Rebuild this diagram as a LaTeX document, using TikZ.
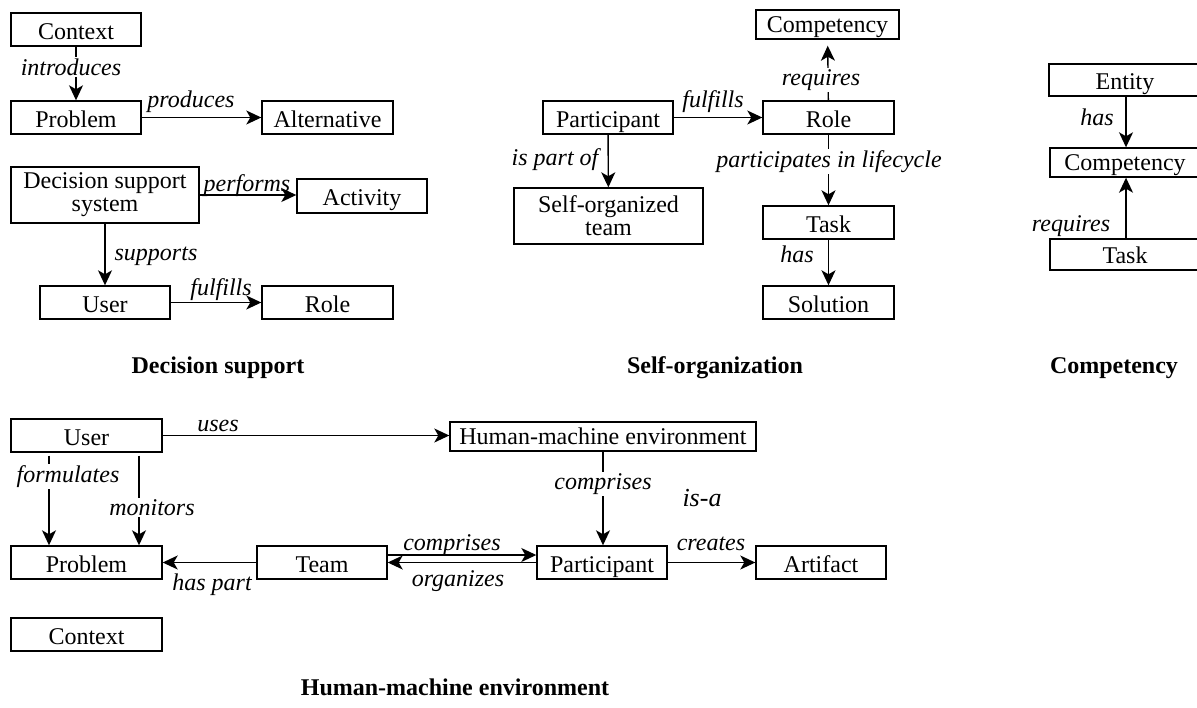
\documentclass[tikz,border=0pt]{standalone}
\usepackage{fontspec}
\setmainfont{Liberation Serif}
\usetikzlibrary{arrows.meta}

\begin{document}
\begin{tikzpicture}[x=1pt,y=-1pt,
  box/.style={draw, line width=1.4pt, inner sep=0pt, minimum width=130pt,
    text height=26pt, text depth=7pt, font=\fontsize{24}{23}\selectfont},
  thinbox/.style={box, text height=22pt, text depth=7pt},
  tallbox/.style={draw, line width=1.4pt, inner sep=0pt, minimum height=56pt,
    align=center, font=\fontsize{24}{23}\selectfont},
  conn/.style={line width=1.4pt, -{Stealth[length=15pt,width=14pt,inset=4pt]}},
  lbl/.style={font=\fontsize{24}{28}\selectfont\itshape, inner sep=1.5pt, anchor=base},
  lblw/.style={lbl, fill=white},
  heading/.style={font=\fontsize{24}{28}\selectfont\bfseries, inner sep=0pt, anchor=base}]

\useasboundingbox (0,0) rectangle (1197,707);
\clip (0,0) rectangle (1197,707);

% ---------------- Decision support ----------------
\node[box] (ctxA) at (76,29.5) {Context};
\node[box] (probA) at (76,117.5) {Problem};
\node[box, minimum width=131pt] (alt) at (327.5,117.5) {Alternative};
\node[tallbox, minimum width=188pt] (dss) at (105,195) {Decision support\\system};
\node[box, minimum height=34pt] (act) at (362,196) {Activity};
\node[box] (userA) at (105,302.5) {User};
\node[box, minimum width=131pt] (roleA) at (327.5,302.5) {Role};

\draw[conn] (ctxA) -- (probA);
\draw[conn] (probA) -- (alt);
\draw[conn] (dss.east) -- (dss.east -| act.west);
\draw[conn] (dss) -- (userA);
\draw[conn] (userA) -- (roleA);

\node[lblw] (lIntro) at (71,75) {introduces};
\node[lbl] (lProd) at (191,107) {produces};
\node[lbl] (lPerf) at (247,191) {performs};
\node[lbl] (lSupp) at (156,260) {supports};
\node[lbl] (lFulA) at (221,295) {fulfills};

\node[heading] (tDS) at (218,373) {Decision support};

% ---------------- Self-organization ----------------
\node[thinbox, minimum width=143pt] (compB) at (827.5,24.5) {Competency};
\node[box] (partB) at (608,117.5) {Participant};
\node[box, minimum width=131pt] (roleB) at (828.5,117.5) {Role};
\node[tallbox, minimum width=189pt] (team0) at (608.5,216) {Self-organized\\team};
\node[box, minimum width=131pt] (taskB) at (828.5,222.5) {Task};
\node[box, minimum width=131pt] (sol) at (828.5,302.5) {Solution};

\draw[conn, shorten >=6pt] (roleB) -- (compB);
\draw[conn] (partB) -- (roleB);
\draw[conn] (partB) -- (team0);
\draw[conn] (roleB) -- (taskB);
\draw[conn] (taskB) -- (sol);

\node[lblw] (lReqB) at (821,85) {requires};
\node[lbl] (lFulB) at (713,107) {fulfills};
\node[lbl] (lPartOf) at (555,165) {is part of};
\node[lblw] (lLife) at (829,167) {participates in lifecycle};
\node[lbl] (lHasB) at (797,262) {has};

\node[heading] (tSO) at (715,373) {Self-organization};

% ---------------- Competency ----------------
\node[box, minimum width=152pt, text height=25pt] (ent) at (1125,80) {Entity};
\node[thinbox, minimum width=150pt] (compC) at (1125,162.5) {Competency};
\node[box, minimum width=150pt, text height=24pt] (taskC) at (1125,254.5) {Task};

\draw[conn] (ent.south -| 1126,0) -- (compC.north -| 1126,0);
\draw[conn] (taskC.north -| 1126,0) -- (compC.south -| 1126,0);

\node[lbl] (lHasC) at (1097,125) {has};
\node[lbl] (lReqC) at (1071,231) {requires};

\node[heading] (tC) at (1114,373) {Competency};

% ---------------- Human-machine environment ----------------
\node[box, minimum width=151pt] (userD) at (86.5,435.5) {User};
\node[thinbox, minimum width=306pt] (hme) at (603,436.5) {Human-machine environment};
\node[box, minimum width=151pt] (probD) at (86.5,562.5) {Problem};
\node[box] (team) at (322,562.5) {Team};
\node[box] (partD) at (602,562.5) {Participant};
\node[box] (art) at (821,562.5) {Artifact};
\node[box, minimum width=151pt] (ctxD) at (86.5,634.5) {Context};

\draw[conn] (userD.east) -- (userD.east -| hme.west);
\draw[conn, shorten <=3pt] ([xshift=-37.5pt]userD.south) -- ([xshift=-37.5pt]probD.north);
\draw[conn, shorten <=3pt] ([xshift=52.5pt]userD.south) -- ([xshift=52.5pt]probD.north);
\draw[conn] (team) -- (probD);
\draw[conn] ([yshift=7.5pt]team.east) -- ([yshift=7.5pt]partD.west);
\draw[conn] (partD) -- (team);
\draw[conn] (hme.south) -- (hme.south |- partD.north);
\draw[conn] (partD) -- (art);

\node[lbl] (lUses) at (218,431) {uses};
\node[lblw] (lForm) at (68,482) {formulates};
\node[lblw] (lMon) at (152,515) {monitors};
\node[lbl] (lHasPart) at (212,590) {has part};
\node[lbl] (lCompT) at (452,550) {comprises};
\node[lbl] (lOrg) at (458,586) {organizes};
\node[lblw] (lCompH) at (603,489) {comprises};
\node[lbl, font=\fontsize{26}{30}\selectfont\itshape] (lIsA) at (702,506) {is-a};
\node[lbl] (lCreates) at (711,550) {creates};

\node[heading] (tHME) at (455,695) {Human-machine environment};

\end{tikzpicture}
\end{document}
